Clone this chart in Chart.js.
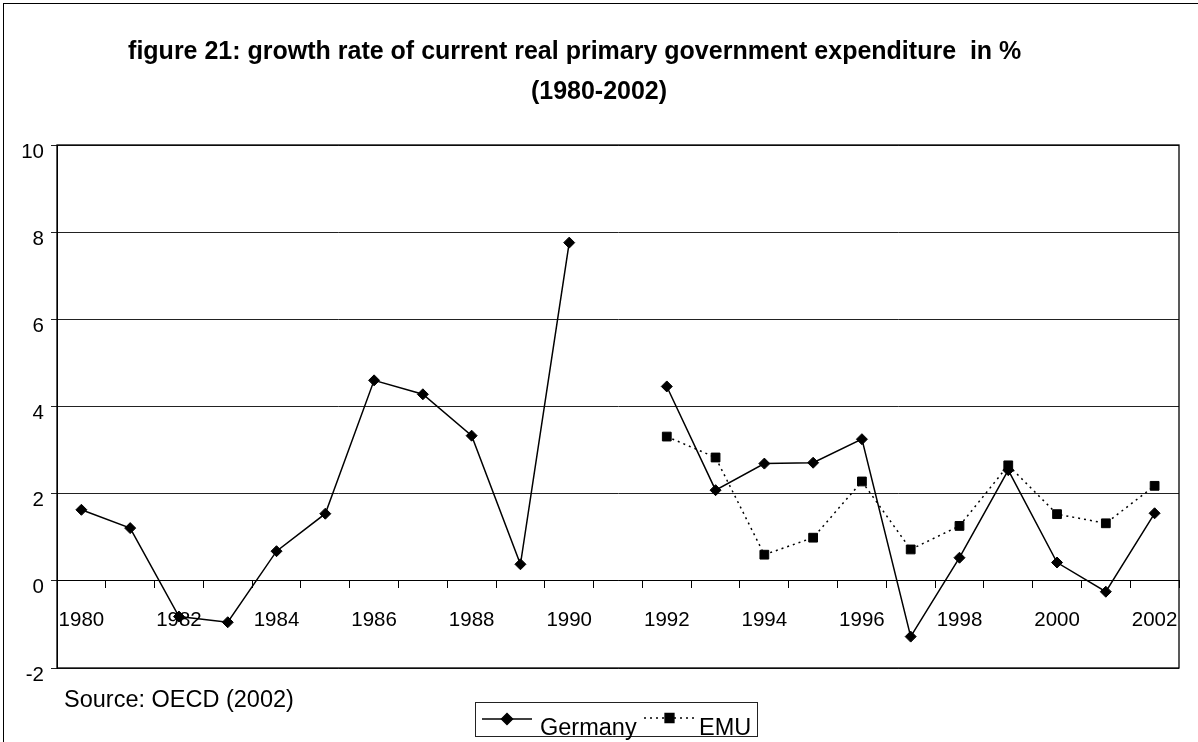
<!DOCTYPE html>
<html>
<head>
<meta charset="utf-8">
<script src="https://cdn.jsdelivr.net/npm/chart.js@4/dist/chart.umd.min.js"></script>
<style>
    html, body { margin:0; padding:0; background:#fff; }
    #chart { display:block; }
</style>
</head>
<body>
<canvas id="chart" width="1198" height="742"></canvas>
<script>
// 데이터
const years = ['1980','1981','1982','1983','1984','1985','1986','1987','1988','1989','1990','1991',
               '1992','1993','1994','1995','1996','1997','1998','1999','2000','2001','2002'];
const germany = [1.63, 1.21, -0.82, -0.95, 0.68, 1.54, 4.60, 4.28, 3.33, 0.38, 7.76, null,
                 4.46, 2.08, 2.69, 2.71, 3.25, -1.28, 0.53, 2.54, 0.42, -0.25, 1.55];
const emu = [null, null, null, null, null, null, null, null, null, null, null, null,
             3.31, 2.83, 0.60, 0.99, 2.28, 0.72, 1.26, 2.65, 1.53, 1.32, 2.18];
const yMin = -2, yMax = 10, yStep = 2;

const titleLines = ['figure 21: growth rate of current real primary government expenditure  in %       ',
                    '(1980-2002)'];
const sourceText = 'Source: OECD (2002)';

const FONT = "'Liberation Sans', Arial, sans-serif";

// 테두리, 출처, 범례 그리기
const extrasPlugin = {
    id: 'extras',
    afterDraw: function(chart) {
        const ctx = chart.ctx;
        const area = chart.chartArea;
        ctx.save();

        // 바깥 테두리
        ctx.strokeStyle = '#000';
        ctx.lineWidth = 1;
        ctx.strokeRect(3.5, 3.5, 1200, 800);

        // plot 영역 테두리
        ctx.lineWidth = 1.3;
        ctx.strokeRect(area.left, area.top, area.right - area.left, area.bottom - area.top);

        // 출처
        ctx.fillStyle = '#000';
        ctx.font = '23.5px ' + FONT;
        ctx.textBaseline = 'alphabetic';
        ctx.textAlign = 'left';
        ctx.fillText(sourceText, 64, 707);

        // 범례 박스
        ctx.lineWidth = 1;
        ctx.strokeStyle = '#222';
        ctx.strokeRect(475.5, 702.5, 282, 34);

        const items = [
            {x0: 482, x1: 532, y: 719, tx: 540},
            {x0: 644, x1: 695, y: 718, tx: 699}
        ];
        chart.data.datasets.forEach(function(ds, i) {
            const it = items[i];
            ctx.save();
            ctx.strokeStyle = ds.borderColor;
            ctx.lineWidth = ds.borderWidth;
            ctx.setLineDash(ds.borderDash || []);
            ctx.beginPath();
            ctx.moveTo(it.x0, it.y);
            ctx.lineTo(it.x1, it.y);
            ctx.stroke();
            ctx.setLineDash([]);
            ctx.fillStyle = ds.pointBackgroundColor;
            ctx.strokeStyle = ds.pointBorderColor;
            Chart.helpers.drawPoint(ctx, {
                pointStyle: ds.pointStyle,
                radius: ds.pointRadius,
                rotation: 0,
                borderWidth: 1
            }, (it.x0 + it.x1) / 2, it.y);
            ctx.restore();
            ctx.fillStyle = '#000';
            ctx.font = '23.5px ' + FONT;
            ctx.fillText(ds.label, it.tx, 735);
        });
        ctx.restore();
    }
};

new Chart(document.getElementById('chart'), {
    type: 'line',
    data: {
        labels: years,
        datasets: [
            {
                label: 'Germany',
                data: germany,
                borderColor: '#000',
                borderWidth: 1.5,
                pointStyle: 'rectRot',
                pointRadius: 5.5,
                pointBackgroundColor: '#000',
                pointBorderColor: '#000',
                pointBorderWidth: 1,
                spanGaps: false,
                tension: 0
            },
            {
                label: 'EMU',
                data: emu,
                borderColor: '#000',
                borderWidth: 1.5,
                borderDash: [2, 4],
                pointStyle: 'rect',
                pointRadius: 6.2,
                pointBackgroundColor: '#000',
                pointBorderColor: '#000',
                pointBorderWidth: 1,
                tension: 0
            }
        ]
    },
    options: {
        responsive: false,
        animation: false,
        devicePixelRatio: 1,
        layout: {
            padding: {left: 0, right: 0, top: 0, bottom: 74}
        },
        scales: {
            x: {
                type: 'category',
                offset: true,
                position: {y: 0},
                afterFit: function(scale) { scale.height = 0; },
                grid: {
                    offset: true,
                    drawOnChartArea: false,
                    drawTicks: true,
                    tickLength: 7,
                    color: '#000'
                },
                border: { display: true, color: '#000', width: 1 },
                ticks: {
                    autoSkip: false,
                    maxRotation: 0,
                    minRotation: 0,
                    padding: 20,
                    color: '#000',
                    font: { family: FONT, size: 20.5 },
                    callback: function(value) {
                        const y = this.getLabelForValue(value);
                        return (parseInt(y) % 2 === 0) ? y : '';
                    }
                }
            },
            y: {
                min: yMin,
                max: yMax,
                afterFit: function(scale) { scale.width = 57; },
                grid: {
                    color: '#222',
                    lineWidth: 1,
                    tickLength: 6
                },
                border: { display: true, color: '#000', width: 1 },
                ticks: {
                    stepSize: yStep,
                    padding: 7,
                    labelOffset: 7,
                    color: '#000',
                    font: { family: FONT, size: 20.5 }
                }
            },
            // 오른쪽 여백용 (표시 안함)
            yRight: {
                position: 'right',
                min: yMin,
                max: yMax,
                afterFit: function(scale) { scale.width = 19; },
                grid: { display: false },
                border: { display: false },
                ticks: { display: false }
            }
        },
        plugins: {
            legend: { display: false },
            tooltip: { enabled: false },
            title: {
                display: true,
                text: titleLines,
                color: '#000',
                font: { family: FONT, size: 25, weight: 'bold', lineHeight: '40px' },
                padding: { top: 32, bottom: 33 }
            }
        }
    },
    plugins: [extrasPlugin]
});
</script>
</body>
</html>
